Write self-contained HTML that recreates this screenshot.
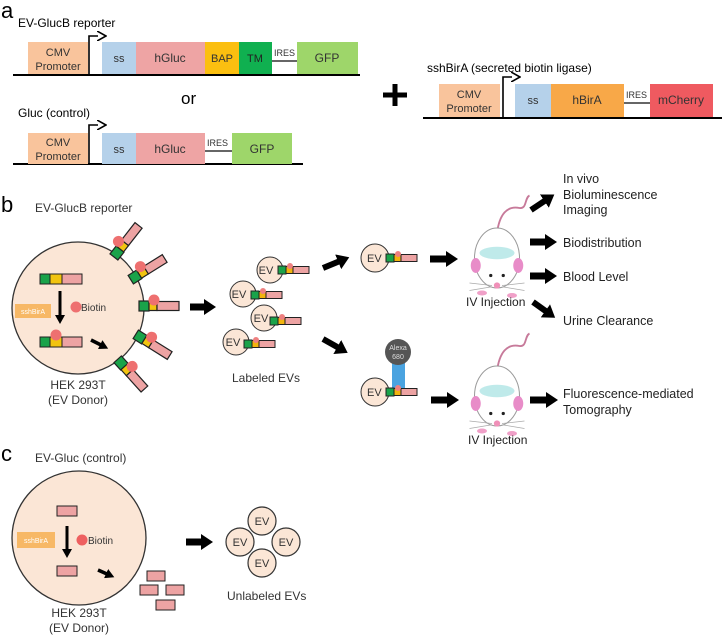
<!DOCTYPE html>
<html><head><meta charset="utf-8"><style>
html,body{margin:0;padding:0;background:#fff;}
svg{display:block;font-family:"Liberation Sans",sans-serif;}
</style></head><body>
<svg width="722" height="638" viewBox="0 0 722 638" xmlns="http://www.w3.org/2000/svg">
<defs>
<marker id="ah" markerUnits="userSpaceOnUse" markerWidth="14" markerHeight="16" refX="2" refY="8" orient="auto"><path d="M0,0 L12,8 L0,16 Z" fill="#000"/></marker>
<marker id="sh" markerUnits="userSpaceOnUse" markerWidth="10" markerHeight="10" refX="1" refY="5" orient="auto"><path d="M0,0 L9,5 L0,10 Z" fill="#000"/></marker>
<marker id="ta" markerUnits="userSpaceOnUse" markerWidth="10" markerHeight="10" refX="1" refY="5" orient="auto"><path d="M0,0 L9,5 L0,10" fill="none" stroke="#000" stroke-width="1.6"/></marker>
<g id="con">
<rect x="-5" y="-5" width="10" height="10" fill="#1aa34a" stroke="#222" stroke-width="1.2"/>
<rect x="5" y="-4.5" width="8" height="9" fill="#f2c40f" stroke="#222" stroke-width="1.2"/>
<rect x="13" y="-4.5" width="22" height="9" fill="#eda3a3" stroke="#222" stroke-width="1.2"/>
<circle cx="10" cy="-6" r="5.5" fill="#ee7070"/>
</g>
<g id="scon">
<rect x="-4" y="-4" width="8" height="8" fill="#1aa34a" stroke="#222" stroke-width="1"/>
<rect x="4" y="-3.5" width="7" height="7" fill="#f2b40f" stroke="#222" stroke-width="1"/>
<rect x="11" y="-3.5" width="16" height="7" fill="#eda3a3" stroke="#222" stroke-width="1"/>
<circle cx="8" cy="-4" r="3" fill="#ee8080"/>
</g>
<g id="mouse">
<path d="M0,-20 C2,-35 8,-42 18,-40 C24,-39 22,-48 26,-50" fill="none" stroke="#c77a9a" stroke-width="1.5"/>
<ellipse cx="0" cy="0" rx="18" ry="24" fill="#fff" stroke="#999" stroke-width="0.8"/>
<ellipse cx="0" cy="-4" rx="14" ry="5" fill="#bfeaea"/>
<ellipse cx="-17" cy="6" rx="4" ry="6" fill="#e88cc8"/>
<ellipse cx="17" cy="6" rx="4" ry="6" fill="#e88cc8"/>
<circle cx="-5" cy="14" r="1.3" fill="#222"/><circle cx="5" cy="14" r="1.3" fill="#222"/>
<circle cx="0" cy="22" r="2.5" fill="#f090b8"/>
<path d="M-4,22 L-22,20 M-4,23 L-22,26 M4,22 L22,20 M4,23 L22,26" stroke="#aaa" stroke-width="0.6"/>
<ellipse cx="-12" cy="28" rx="4" ry="2" fill="#f0a0c8"/><ellipse cx="12" cy="30" rx="4" ry="2" fill="#f0a0c8"/>
</g>
</defs>

<!-- a -->
<text x="1" y="18" font-size="22">a</text>
<text x="18" y="27" font-size="12">EV-GlucB reporter</text>
<line x1="13" y1="75" x2="360" y2="75" stroke="#000" stroke-width="2"/>
<rect x="28" y="42" width="60" height="32" fill="#f9c49c"/>
<text x="58" y="56" font-size="11" text-anchor="middle" fill="#333">CMV</text>
<text x="58" y="70" font-size="11" text-anchor="middle" fill="#333">Promoter</text>
<path d="M89,75 V36 H98" fill="none" stroke="#000" stroke-width="1.6" marker-end="url(#ta)"/>
<rect x="102" y="42" width="34" height="32" fill="#b5d1ea"/><text x="119" y="62" font-size="11" text-anchor="middle" fill="#333">ss</text>
<rect x="136" y="42" width="69" height="32" fill="#eea4a4"/><text x="170" y="62" font-size="12" text-anchor="middle" fill="#333">hGluc</text>
<rect x="205" y="42" width="34" height="32" fill="#fbbf10"/><text x="222" y="62" font-size="11" text-anchor="middle" fill="#333">BAP</text>
<rect x="239" y="42" width="33" height="32" fill="#10b050"/><text x="255" y="62" font-size="11" text-anchor="middle" fill="#222">TM</text>
<line x1="272" y1="61" x2="297" y2="61" stroke="#333" stroke-width="1.5"/><text x="274" y="56" font-size="9" fill="#333">IRES</text>
<rect x="297" y="42" width="61" height="32" fill="#9ed66a"/><text x="327" y="62" font-size="12" text-anchor="middle" fill="#333">GFP</text>

<text x="181" y="104" font-size="17">or</text>
<text x="18" y="117" font-size="12">Gluc (control)</text>
<line x1="13" y1="164" x2="303" y2="164" stroke="#000" stroke-width="2"/>
<rect x="28" y="133" width="60" height="31" fill="#f9c49c"/>
<text x="58" y="146" font-size="11" text-anchor="middle" fill="#333">CMV</text>
<text x="58" y="160" font-size="11" text-anchor="middle" fill="#333">Promoter</text>
<path d="M89,164 V125 H98" fill="none" stroke="#000" stroke-width="1.6" marker-end="url(#ta)"/>
<rect x="102" y="133" width="34" height="31" fill="#b5d1ea"/><text x="119" y="153" font-size="11" text-anchor="middle" fill="#333">ss</text>
<rect x="136" y="133" width="69" height="31" fill="#eea4a4"/><text x="170" y="153" font-size="12" text-anchor="middle" fill="#333">hGluc</text>
<line x1="205" y1="151" x2="232" y2="151" stroke="#333" stroke-width="1.5"/><text x="207" y="146" font-size="9" fill="#333">IRES</text>
<rect x="232" y="133" width="60" height="31" fill="#9ed66a"/><text x="262" y="153" font-size="12" text-anchor="middle" fill="#333">GFP</text>

<path d="M395,84 V106 M383,95 H407" stroke="#000" stroke-width="5"/>
<text x="427" y="72" font-size="12">sshBirA (secreted biotin ligase)</text>
<line x1="423" y1="118" x2="722" y2="118" stroke="#000" stroke-width="2"/>
<rect x="439" y="84" width="61" height="33" fill="#f9c49c"/>
<text x="469" y="98" font-size="11" text-anchor="middle" fill="#333">CMV</text>
<text x="469" y="112" font-size="11" text-anchor="middle" fill="#333">Promoter</text>
<path d="M503,118 V77 H512" fill="none" stroke="#000" stroke-width="1.6" marker-end="url(#ta)"/>
<rect x="515" y="84" width="36" height="33" fill="#b5d1ea"/><text x="533" y="104" font-size="11" text-anchor="middle" fill="#333">ss</text>
<rect x="551" y="84" width="73" height="33" fill="#f8a848"/><text x="587" y="104" font-size="12" text-anchor="middle" fill="#333">hBirA</text>
<line x1="624" y1="103" x2="650" y2="103" stroke="#333" stroke-width="1.5"/><text x="626" y="98" font-size="9" fill="#333">IRES</text>
<rect x="650" y="84" width="63" height="33" fill="#ef5a60"/><text x="681" y="104" font-size="12" text-anchor="middle" fill="#333">mCherry</text>

<!-- b -->
<text x="1" y="212" font-size="22">b</text>
<text x="35" y="212" font-size="12" fill="#333">EV-GlucB reporter</text>
<circle cx="78" cy="308" r="66" fill="#fbe6d6" stroke="#333" stroke-width="1.3"/>
<rect x="40" y="274" width="10" height="10" fill="#1aa34a" stroke="#222"/><rect x="50" y="274" width="12" height="10" fill="#f2c40f" stroke="#222"/><rect x="62" y="274" width="20" height="10" fill="#eda3a3" stroke="#222"/>
<line x1="60" y1="291" x2="60" y2="316" stroke="#000" stroke-width="3" marker-end="url(#sh)"/>
<rect x="15" y="304" width="36" height="14" fill="#f7b866"/><text x="33" y="314" font-size="7" text-anchor="middle" fill="#fff">sshBirA</text>
<circle cx="76" cy="307" r="5.5" fill="#ee7070"/><text x="81" y="311" font-size="10" fill="#333">Biotin</text>
<rect x="40" y="337" width="10" height="10" fill="#1aa34a" stroke="#222"/><rect x="50" y="337" width="12" height="10" fill="#f2c40f" stroke="#222"/><rect x="62" y="337" width="20" height="10" fill="#eda3a3" stroke="#222"/>
<circle cx="56" cy="335" r="5.5" fill="#ee7070"/>
<line x1="91" y1="340" x2="101" y2="345" stroke="#000" stroke-width="3.5" marker-end="url(#sh)"/>
<use href="#con" transform="translate(117,253) rotate(-52)"/>
<use href="#con" transform="translate(135,277) rotate(-32)"/>
<use href="#con" transform="translate(144,306)"/>
<use href="#con" transform="translate(140,337) rotate(32)"/>
<use href="#con" transform="translate(121,363) rotate(48)"/>
<text x="78" y="389" font-size="12" text-anchor="middle" fill="#333">HEK 293T</text>
<text x="78" y="404" font-size="12" text-anchor="middle" fill="#333">(EV Donor)</text>
<line x1="190" y1="307" x2="206" y2="307" stroke="#000" stroke-width="7" marker-end="url(#ah)"/>

<g font-size="11" fill="#333" text-anchor="middle">
<circle cx="270" cy="270" r="13" fill="#fbe6d6" stroke="#333"/><text x="266" y="274">EV</text><use href="#scon" transform="translate(282,270)"/>
<circle cx="243" cy="294" r="13" fill="#fbe6d6" stroke="#333"/><text x="239" y="298">EV</text><use href="#scon" transform="translate(255,295)"/>
<circle cx="264" cy="318" r="13" fill="#fbe6d6" stroke="#333"/><text x="261" y="322">EV</text><use href="#scon" transform="translate(274,321)"/>
<circle cx="236" cy="342" r="13" fill="#fbe6d6" stroke="#333"/><text x="233" y="346">EV</text><use href="#scon" transform="translate(248,344)"/>
</g>
<text x="232" y="382" font-size="12" fill="#333">Labeled EVs</text>
<line x1="323" y1="268" x2="340" y2="261" stroke="#000" stroke-width="6" marker-end="url(#ah)"/>
<line x1="323" y1="339" x2="339" y2="348" stroke="#000" stroke-width="6" marker-end="url(#ah)"/>

<circle cx="375" cy="258" r="14" fill="#fbe6d6" stroke="#333"/><text x="367" y="262" font-size="11" fill="#333">EV</text>
<use href="#scon" transform="translate(390,258)"/>
<line x1="430" y1="259" x2="448" y2="259" stroke="#000" stroke-width="7" marker-end="url(#ah)"/>
<use href="#mouse" transform="translate(497,258) scale(1.25)"/>
<text x="466" y="306" font-size="12" fill="#222">IV Injection</text>
<line x1="531" y1="210" x2="546" y2="200" stroke="#000" stroke-width="6" marker-end="url(#ah)"/>
<line x1="530" y1="242" x2="547" y2="242" stroke="#000" stroke-width="7" marker-end="url(#ah)"/>
<line x1="530" y1="276" x2="547" y2="276" stroke="#000" stroke-width="7" marker-end="url(#ah)"/>
<line x1="533" y1="302" x2="547" y2="312" stroke="#000" stroke-width="6" marker-end="url(#ah)"/>
<g font-size="12.5" fill="#222">
<text x="563" y="183">In vivo</text><text x="563" y="199">Bioluminescence</text><text x="563" y="214">Imaging</text>
<text x="563" y="247">Biodistribution</text><text x="563" y="281">Blood Level</text><text x="563" y="325">Urine Clearance</text>
<text x="563" y="398">Fluorescence-mediated</text><text x="563" y="414">Tomography</text>
</g>

<rect x="392" y="362" width="13" height="28" fill="#4aa3e0"/>
<circle cx="398" cy="352" r="13" fill="#555"/>
<text x="398" y="350" font-size="7" fill="#ddd" text-anchor="middle">Alexa</text><text x="398" y="359" font-size="7" fill="#ddd" text-anchor="middle">680</text>
<circle cx="375" cy="392" r="14" fill="#fbe6d6" stroke="#333"/><text x="367" y="396" font-size="11" fill="#333">EV</text>
<use href="#scon" transform="translate(390,392)"/>
<line x1="431" y1="400" x2="449" y2="400" stroke="#000" stroke-width="7" marker-end="url(#ah)"/>
<use href="#mouse" transform="translate(497,396) scale(1.25)"/>
<text x="468" y="444" font-size="12" fill="#222">IV Injection</text>
<line x1="530" y1="400" x2="548" y2="400" stroke="#000" stroke-width="7" marker-end="url(#ah)"/>

<!-- c -->
<text x="1" y="461" font-size="22">c</text>
<text x="35" y="462" font-size="12" fill="#333">EV-Gluc (control)</text>
<circle cx="79" cy="538" r="67" fill="#fbe6d6" stroke="#333" stroke-width="1.3"/>
<rect x="57" y="506" width="20" height="10" fill="#eda3a3" stroke="#222"/>
<rect x="57" y="566" width="20" height="10" fill="#eda3a3" stroke="#222"/>
<line x1="67" y1="526" x2="67" y2="550" stroke="#000" stroke-width="3" marker-end="url(#sh)"/>
<rect x="17" y="532" width="38" height="16" fill="#f7b866"/><text x="36" y="543" font-size="7" text-anchor="middle" fill="#fff">sshBirA</text>
<circle cx="82" cy="540" r="5.5" fill="#ee6060"/><text x="88" y="544" font-size="10" fill="#333">Biotin</text>
<line x1="98" y1="570" x2="107" y2="574" stroke="#000" stroke-width="3.5" marker-end="url(#sh)"/>
<rect x="147" y="571" width="18" height="10" fill="#eda3a3" stroke="#222"/>
<rect x="140" y="585" width="18" height="10" fill="#eda3a3" stroke="#222"/>
<rect x="166" y="585" width="18" height="10" fill="#eda3a3" stroke="#222"/>
<rect x="156" y="600" width="19" height="10" fill="#eda3a3" stroke="#222"/>
<text x="79" y="617" font-size="12" text-anchor="middle" fill="#333">HEK 293T</text>
<text x="79" y="632" font-size="12" text-anchor="middle" fill="#333">(EV Donor)</text>
<line x1="186" y1="542" x2="203" y2="542" stroke="#000" stroke-width="7" marker-end="url(#ah)"/>
<g font-size="11" fill="#333" text-anchor="middle">
<circle cx="262" cy="521" r="14" fill="#fbe6d6" stroke="#333" stroke-width="1.2"/><text x="262" y="525">EV</text>
<circle cx="240" cy="542" r="14" fill="#fbe6d6" stroke="#333" stroke-width="1.2"/><text x="240" y="546">EV</text>
<circle cx="286" cy="542" r="14" fill="#fbe6d6" stroke="#333" stroke-width="1.2"/><text x="286" y="546">EV</text>
<circle cx="262" cy="563" r="14" fill="#fbe6d6" stroke="#333" stroke-width="1.2"/><text x="262" y="567">EV</text>
</g>
<text x="227" y="600" font-size="12" fill="#333">Unlabeled EVs</text>
</svg>
</body></html>
